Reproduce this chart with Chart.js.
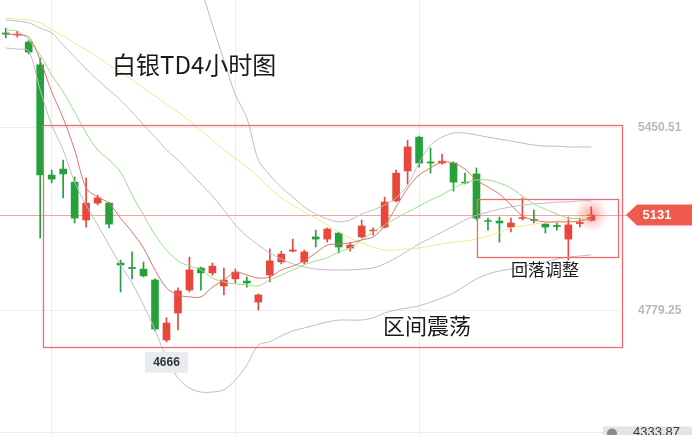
<!DOCTYPE html>
<html><head><meta charset="utf-8">
<script src="https://cdn.jsdelivr.net/npm/chart.js@4.4.0/dist/chart.umd.min.js"></script>
<style>html,body{margin:0;padding:0;background:#fff;overflow:hidden}</style>
</head><body>
<canvas id="c" width="692" height="435"></canvas>
<script>
// ---- data (4-hour candles, 白银TD) ----
const slots = Array.from({length: 54}, (_, i) => String(i)); // 52 candles + 2 empty slots
const open  = [5799,5792,5766,5682,5278,5300,5252,5113,5175,5175, 4955,4939,4933,4893,4673,4772,4856,4937,4919,4871, 4897,4889,4812,4911,4959,4999,4959,5051,5043,5065, 5010,5051,5073,5087,5183,5293,5417,5326,5322,5322, 5252,5282,5111,5109,5087,5119,5115,5098,5093,5043, 5100,5112];
const close = [5795,5795,5729,5278,5263,5282,5120,5175,5194,5098, 4948,4935,4908,4713,4735,4853,4930,4919,4944,4893, 4922,4882,4838,4963,4988,5003,4996,5043,5080,5014, 5021,5091,5076,5179,5285,5381,5322,5322,5329,5252, 5249,5120,5108,5102,5102,5122,5111,5087,5089,5095, 5104,5131];
const high  = [5817,5806,5773,5707,5296,5333,5271,5267,5205,5179, 4966,4996,4959,4897,4754,4864,4977,4940,4955,4937, 4933,4904,4842,5007,4999,5043,5003,5076,5084,5069, 5029,5113,5084,5197,5296,5406,5421,5377,5355,5326, 5285,5304,5120,5124,5120,5194,5150,5102,5102,5124, 5120,5161];
const low   = [5781,5784,5722,5047,5249,5194,5102,5087,5168,5084, 4849,4897,4904,4706,4666,4710,4849,4856,4911,4838, 4882,4867,4783,4886,4952,4996,4952,5014,5032,4992, 4999,5047,5058,5084,5179,5245,5307,5285,5318,5219, 5245,5113,5076,5032,5069,5113,5102,5065,5076,4966, 5087,5109];
const maShort = [5795,5792,5784,5700,5583,5487,5370,5230,5197,5175, 5120,5069,5010,4930,4864,4838,4831,4831,4867,4893, 4922,4911,4900,4904,4930,4944,4963,4992,5021,5025, 5029,5040,5051,5091,5161,5230,5278,5304,5326,5322, 5300,5260,5234,5208,5168,5128,5113,5106,5106,5106, 5109,5120];
const maMid = [5810,5806,5773,5718,5645,5583,5509,5432,5370,5333, 5289,5205,5131,5058,5003,4963,4944,4930,4900,4886, 4878,4875,4871,4893,4911,4930,4948,4963,4974,4996, 5010,5040,5069,5095,5120,5142,5164,5186,5205,5230, 5249,5260,5260,5249,5230,5201,5172,5153,5135,5120, 5117,5113];
const maLong = [5854,5850,5847,5836,5810,5788,5762,5737,5711,5682, 5656,5627,5597,5568,5539,5509,5476,5443,5406,5370, 5340,5307,5271,5230,5194,5168,5142,5120,5095,5069, 5047,5029,5014,5003,5003,5007,5010,5018,5025,5032, 5036,5043,5054,5069,5084,5091,5098,5102,5109,5117, 5120,5128];
const bollUp = [5949,5953,5975,6045,6136,6140,6169,6166,6158,6158, 6158,6136,6122,6125,6133,6133,6081,5964,5828,5700, 5572,5487,5333,5278,5234,5197,5161,5135,5117,5106, 5113,5135,5150,5168,5194,5241,5322,5388,5417,5432, 5432,5425,5417,5410,5403,5395,5388,5384,5384,5381, 5381,5381];
const bollMid = [5847,5843,5836,5817,5799,5755,5711,5667,5627,5590, 5553,5509,5462,5417,5370,5333,5289,5245,5201,5150, 5095,5054,5021,4992,4970,4952,4941,4933,4930,4930, 4930,4933,4937,4952,4974,4999,5025,5047,5069,5091, 5113,5131,5142,5153,5161,5168,5172,5175,5179,5179, 5183,5183];
const bollLow = [5744,5740,5733,5590,5462,5370,5252,5168,5095,5021, 4948,4882,4801,4710,4607,4533,4497,4482,4482,4490, 4526,4581,4655,4666,4688,4706,4717,4728,4739,4746, 4746,4746,4754,4772,4783,4790,4798,4812,4827,4845, 4871,4897,4915,4926,4933,4941,4952,4959,4970,4977, 4981,4985];
const yTickValues = [5450.51, 4779.25, 4333.87];
const xGridSlots = [4, 20, 36];
const lastPrice = 5131;
const lowMark = 4666;
// annotation boxes: [fromSlot, toSlot, topValue, bottomValue]
const rangeBox = [3.25, 53.7, 5461.5, 4647];
const pullbackBox = [41.05, 53.35, 5190, 4977];

const UP = '#e8473c', DOWN = '#25a13a';
const bodyColors = open.map((o, i) => close[i] >= o ? UP : DOWN);

const lineDs = (data, color, order) => ({
  type: 'line', data, borderColor: color, borderWidth: 1, pointRadius: 0,
  tension: 0.3, order, fill: false
});

const annot = {
  id: 'annot',
  beforeDatasetsDraw(chart) {
    const {ctx, scales: {x, y}} = chart;
    const py = Math.round(y.getPixelForValue(lastPrice)) + 0.5;
    ctx.save();
    ctx.strokeStyle = '#f3a6a6'; ctx.lineWidth = 1;
    ctx.beginPath(); ctx.moveTo(0, py); ctx.lineTo(628, py); ctx.stroke();
    const gx = x.getPixelForValue(close.length - 1);
    const g = ctx.createRadialGradient(gx, py - 1, 0, gx, py - 1, 17);
    g.addColorStop(0, 'rgba(240,70,60,0.45)');
    g.addColorStop(1, 'rgba(240,70,60,0)');
    ctx.fillStyle = g; ctx.fillRect(gx - 18, py - 19, 36, 36);
    ctx.restore();
  },
  afterDraw(chart) {
    const {ctx, scales: {x, y}} = chart;
    ctx.save();
    // boxes
    ctx.strokeStyle = '#ee6b72'; ctx.lineWidth = 1.3;
    for (const b of [rangeBox, pullbackBox]) {
      const x0 = x.getPixelForValue(b[0]), x1 = x.getPixelForValue(b[1]);
      const y0 = y.getPixelForValue(b[2]), y1 = y.getPixelForValue(b[3]);
      ctx.strokeRect(Math.round(x0) + 0.5, Math.round(y0) + 0.5, Math.round(x1 - x0), Math.round(y1 - y0));
    }
    // texts
    ctx.fillStyle = '#1a1a1a'; ctx.textBaseline = 'middle'; ctx.textAlign = 'left';
    ctx.font = '24px "Noto Sans CJK SC"';
    ctx.fillText('白银TD4小时图', 112, 65);
    ctx.font = '22px "Noto Sans CJK SC"';
    ctx.fillText('区间震荡', 383, 326);
    ctx.font = '17px "Noto Sans CJK SC"';
    ctx.fillText('回落调整', 511, 270);
    // y axis labels
    yTickValues.forEach((v, i) => {
      const ty = y.getPixelForValue(v);
      if (i === yTickValues.length - 1) {
        ctx.fillStyle = '#e4e4e4';
        ctx.fillRect(603, ty - 6, 92, 16);
        ctx.fillStyle = '#8a8a8a';
        ctx.beginPath(); ctx.arc(612, ty + 1, 5, 0, Math.PI * 2); ctx.fill();
        ctx.fillStyle = '#3a3a3a';
        ctx.font = '13px "Liberation Sans"';
        ctx.fillText(v.toFixed(2), 633, ty);
      } else {
        ctx.fillStyle = '#b9b9b9';
        ctx.font = 'bold 12px "Liberation Sans"';
        ctx.fillText(v.toFixed(2), 638, ty);
      }
    });
    // last price tag
    const py = y.getPixelForValue(lastPrice);
    ctx.fillStyle = '#ee5a4e';
    ctx.beginPath();
    ctx.moveTo(626, py); ctx.lineTo(637, py - 10.5); ctx.lineTo(692, py - 10.5);
    ctx.lineTo(692, py + 10.5); ctx.lineTo(637, py + 10.5); ctx.closePath(); ctx.fill();
    ctx.fillStyle = '#fff'; ctx.font = 'bold 13px "Liberation Sans"'; ctx.textAlign = 'center';
    ctx.fillText(String(lastPrice), 657, py + 0.5);
    // lowest mark
    const li = low.indexOf(lowMark);
    const lx = x.getPixelForValue(li), ly = y.getPixelForValue(lowMark);
    ctx.fillStyle = '#e9ecef';
    ctx.beginPath(); ctx.roundRect(lx - 21.5, ly + 10, 43, 21, 2); ctx.fill();
    ctx.fillStyle = '#333'; ctx.font = 'bold 12px "Liberation Sans"';
    ctx.fillText(String(lowMark), lx, ly + 21);
    ctx.restore();
  }
};

new Chart(document.getElementById('c'), {
  type: 'bar',
  data: {
    labels: slots,
    datasets: [
      lineDs(maShort, '#e2716b', 0),
      lineDs(maMid, '#98df8e', 0),
      lineDs(maLong, '#f4e78a', 0),
      lineDs(bollUp, '#bdbcc8', 0),
      lineDs(bollMid, '#bdbcc8', 0),
      lineDs(bollLow, '#bdbcc8', 0),
      { data: open.map((o, i) => [o, close[i]]), backgroundColor: bodyColors,
        barThickness: 7, grouped: false, order: 1, borderWidth: 0 },
      { data: low.map((l, i) => [l, high[i]]), backgroundColor: bodyColors,
        barThickness: 1, grouped: false, order: 2, borderWidth: 0 }
    ]
  },
  options: {
    responsive: false, animation: false, devicePixelRatio: 1,
    layout: { padding: 0 },
    plugins: { legend: { display: false }, tooltip: { enabled: false } },
    scales: {
      x: {
        ticks: { display: false },
        grid: { color: '#ececec', drawTicks: false, offset: false },
        border: { display: false },
        afterBuildTicks: s => { s.ticks = xGridSlots.map(v => ({ value: v })); }
      },
      y: {
        position: 'right', min: 4324.4, max: 5920.0,
        ticks: { display: false },
        grid: { color: '#ececec', drawTicks: false },
        border: { display: false },
        afterBuildTicks: s => { s.ticks = yTickValues.map(v => ({ value: v })); },
        afterFit: s => { s.width = 72; }
      }
    }
  },
  plugins: [annot]
});
</script>
</body></html>
